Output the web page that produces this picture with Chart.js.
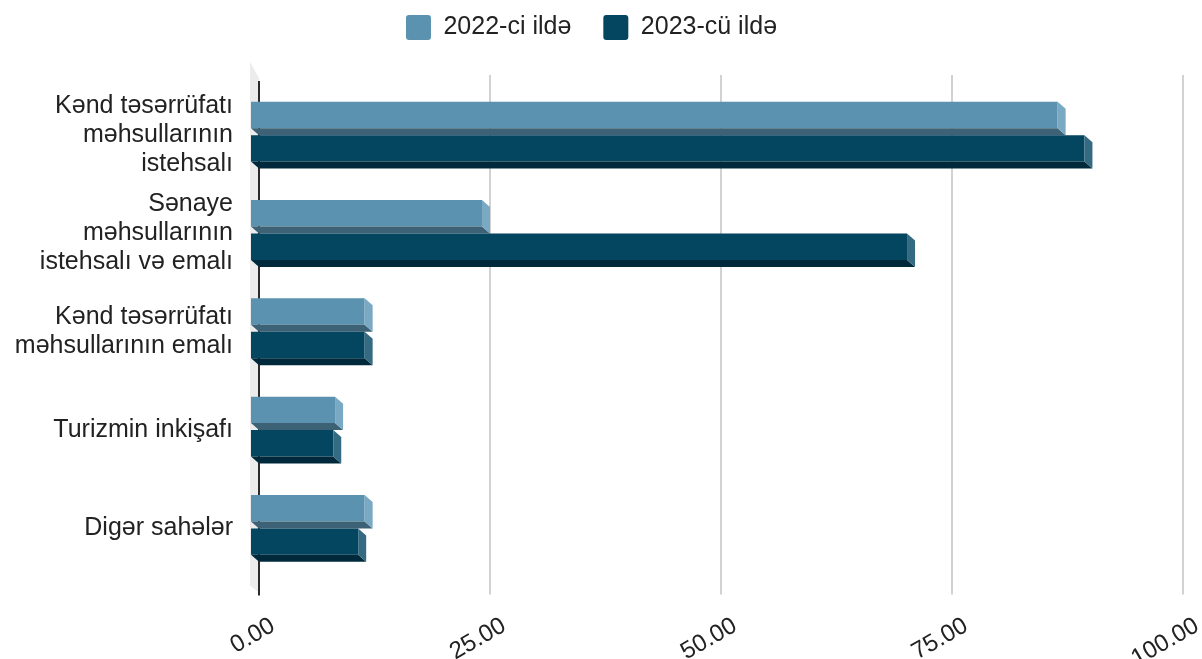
<!DOCTYPE html>
<html>
<head>
<meta charset="utf-8">
<script src="https://cdn.jsdelivr.net/npm/chart.js@4.4.0/dist/chart.umd.min.js"></script>
<style>
  html, body { margin: 0; padding: 0; background: #fff; }
  #wrap { width: 1202px; height: 659px; }
</style>
</head>
<body>
<div id="wrap"><canvas id="sectorChart"></canvas></div>
<script>
const categories = [
  ['Kənd təsərrüfatı', 'məhsullarının', 'istehsalı'],
  ['Sənaye', 'məhsullarının', 'istehsalı və emalı'],
  ['Kənd təsərrüfatı', 'məhsullarının emalı'],
  'Turizmin inkişafı',
  'Digər sahələr'
];
const seriesNames = ['2022-ci ildə', '2023-cü ildə'];
const values2022 = [87.3, 25.0, 12.3, 9.1, 12.3];
const values2023 = [90.2, 71.0, 12.3, 8.9, 11.6];
const xTicks = [0, 25, 50, 75, 100];

const FONT = 'Liberation Sans, Arial, sans-serif';

// bar depth for the fake 3d look
const DEPTH_X = 8;
const DEPTH_Y = 7;
const faces = [
  { front: '#5a92af', side: '#7aaac3', bottom: '#3e6275' },
  { front: '#044560', side: '#346b82', bottom: '#002a3c' }
];

function poly(ctx, pts, color) {
  ctx.fillStyle = color;
  ctx.beginPath();
  ctx.moveTo(pts[0][0], pts[0][1]);
  for (let i = 1; i < pts.length; i++) ctx.lineTo(pts[i][0], pts[i][1]);
  ctx.closePath();
  ctx.fill();
}

const box3d = {
  id: 'box3d',
  beforeDatasetsDraw(chart) {
    const ctx = chart.ctx;
    const area = chart.chartArea;
    const xs = chart.scales.x;
    const zero = xs.getPixelForValue(0);
    const wallTop = area.top - 8;
    const wallBottom = area.bottom + 15;

    ctx.save();
    // left wall
    poly(ctx, [
      [zero - DEPTH_X - 1, wallTop - 16],
      [zero, wallTop],
      [zero, wallBottom],
      [zero - DEPTH_X - 1, wallBottom - DEPTH_Y]
    ], '#ececec');

    // grid lines
    ctx.lineWidth = 2;
    ctx.strokeStyle = '#d2d2d2';
    xTicks.forEach(v => {
      if (v === 0) return;
      const px = Math.round(xs.getPixelForValue(v));
      ctx.beginPath();
      ctx.moveTo(px, area.top - 11);
      ctx.lineTo(px, wallBottom + 2);
      ctx.stroke();
    });
    // zero axis
    ctx.strokeStyle = '#2b2b2b';
    ctx.beginPath();
    ctx.moveTo(Math.round(zero), area.top - 5);
    ctx.lineTo(Math.round(zero), wallBottom + 3);
    ctx.stroke();

    // bars: front face, bottom face, right side
    chart.data.datasets.forEach((ds, di) => {
      const meta = chart.getDatasetMeta(di);
      if (meta.hidden) return;
      const f = faces[di];
      meta.data.forEach(bar => {
        const top = bar.y - bar.height / 2;
        const bottom = bar.y + bar.height / 2;
        const b = bar.base;
        const v = bar.x;
        poly(ctx, [
          [b - DEPTH_X, top], [v - DEPTH_X, top],
          [v - DEPTH_X, bottom - DEPTH_Y], [b - DEPTH_X, bottom - DEPTH_Y]
        ], f.front);
        poly(ctx, [
          [b - DEPTH_X, bottom - DEPTH_Y], [v - DEPTH_X, bottom - DEPTH_Y],
          [v, bottom], [b, bottom]
        ], f.bottom);
        poly(ctx, [
          [v - DEPTH_X, top], [v, top + DEPTH_Y],
          [v, bottom], [v - DEPTH_X, bottom - DEPTH_Y]
        ], f.side);
      });
    });
    ctx.restore();
    return false;
  }
};

const ctx = document.getElementById('sectorChart').getContext('2d');
new Chart(ctx, {
  type: 'bar',
  data: {
    labels: categories,
    datasets: [
      {
        label: seriesNames[0],
        data: values2022,
        backgroundColor: faces[0].front,
        borderWidth: 0
      },
      {
        label: seriesNames[1],
        data: values2023,
        backgroundColor: faces[1].front,
        borderWidth: 0
      }
    ]
  },
  options: {
    indexAxis: 'y',
    responsive: true,
    maintainAspectRatio: false,
    animation: false,
    datasets: {
      bar: { categoryPercentage: 0.68, barPercentage: 1.0 }
    },
    layout: {
      padding: { top: -17, right: 19, bottom: 0, left: 0 }
    },
    scales: {
      x: {
        min: 0,
        max: 100,
        afterBuildTicks: s => { s.ticks = xTicks.map(v => ({ value: v })); },
        afterFit: s => { s.height = 81.4; },
        grid: { display: false, tickLength: 30 },
        border: { display: false },
        ticks: {
          minRotation: 30,
          maxRotation: 30,
          labelOffset: 14,
          padding: 4,
          color: '#222',
          font: { family: FONT, size: 24 },
          callback: v => Number(v).toFixed(2)
        }
      },
      // empty band between legend and plot
      gap: {
        type: 'linear',
        axis: 'x',
        position: 'top',
        display: true,
        afterFit: s => { s.height = 36; },
        grid: { display: false },
        border: { display: false },
        ticks: { display: false }
      },
      y: {
        afterFit: s => { s.width = 259; },
        grid: { display: false },
        border: { display: false },
        ticks: {
          padding: 18,
          color: '#222',
          font: { family: FONT, size: 25, lineHeight: 1.16 }
        }
      }
    },
    plugins: {
      legend: {
        position: 'top',
        labels: {
          boxWidth: 25,
          boxHeight: 25,
          useBorderRadius: true,
          borderRadius: 3,
          padding: 32,
          color: '#222',
          font: { family: FONT, size: 25 }
        }
      },
      tooltip: { enabled: false }
    }
  },
  plugins: [box3d]
});
</script>
</body>
</html>
